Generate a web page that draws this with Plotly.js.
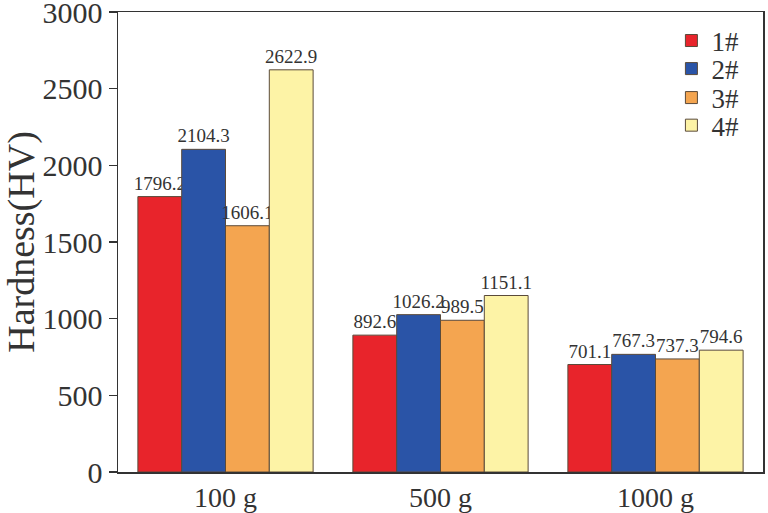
<!DOCTYPE html>
<html>
<head>
<meta charset="utf-8">
<script src="https://cdn.plot.ly/plotly-3.0.1.min.js"></script>
<style>
  html, body { margin: 0; padding: 0; background: #fff; }
  #chart { width: 768px; height: 513px; }
</style>
</head>
<body>
<div id="chart"></div>
<script>
// Loads applied and hardness readings per sample
const loads = ['100 g', '500 g', '1000 g'];
const samples = ['1#', '2#', '3#', '4#'];
const hv1 = [1796.2, 892.6, 701.1];
const hv2 = [2104.3, 1026.2, 767.3];
const hv3 = [1606.1, 989.5, 737.3];
const hv4 = [2622.9, 1151.1, 794.6];
const yTicks = [0, 500, 1000, 1500, 2000, 2500, 3000];

const series = [hv1, hv2, hv3, hv4];
const colors = ['#e8242b', '#2a54a7', '#f4a550', '#fdf3a6'];
const legendIds = ['legend', 'legend2', 'legend3', 'legend4'];
// vertical centre of each legend row, paper units
const legendY = [0.937, 0.876, 0.813, 0.753];

const serif = 'Liberation Serif';
const ink = '#333';

const data = series.map((vals, i) => ({
    type: 'bar',
    x: loads,
    y: vals,
    name: samples[i],
    legend: legendIds[i],
    text: vals.map(v => v.toFixed(1)),
    textposition: 'outside',
    constraintext: 'none',
    cliponaxis: false,
    textfont: {family: serif, size: 19, color: ink},
    marker: {color: colors[i], line: {color: '#5a4a3a', width: 1}},
    hoverinfo: 'skip'
}));

const layout = {
    width: 768,
    height: 513,
    margin: {l: 118, r: 5, t: 12, b: 41},
    paper_bgcolor: '#fff',
    plot_bgcolor: '#fff',
    barmode: 'group',
    bargap: 0.185,
    bargroupgap: 0,
    font: {family: serif, color: ink, size: 27},
    showlegend: true,
    xaxis: {
        range: [-0.5, 2.5],
        showline: true, linecolor: ink, linewidth: 1.5, mirror: true,
        ticks: '', showgrid: false,
        ticklabelstandoff: 0,
        tickfont: {family: serif, size: 28, color: ink}
    },
    yaxis: {
        range: [0, 3000],
        tickvals: yTicks,
        ticks: 'outside', ticklen: 8, tickwidth: 1.5, tickcolor: ink,
        ticklabeloverflow: 'allow',
        showline: true, linecolor: ink, linewidth: 1.5, mirror: true,
        showgrid: false, zeroline: false,
        tickfont: {family: serif, size: 30, color: ink},
        title: {text: 'Hardness(HV)', font: {family: serif, size: 38, color: ink}, standoff: 0}
    }
};

// one legend per sample so the rows sit as tight as in the figure
legendIds.forEach((id, i) => {
    layout[id] = {
        x: 0.858, y: legendY[i], xanchor: 'left', yanchor: 'middle',
        bgcolor: 'rgba(0,0,0,0)',
        font: {family: serif, size: 27, color: ink}
    };
});

Plotly.newPlot('chart', data, layout, {displayModeBar: false, staticPlot: true});
</script>
</body>
</html>
